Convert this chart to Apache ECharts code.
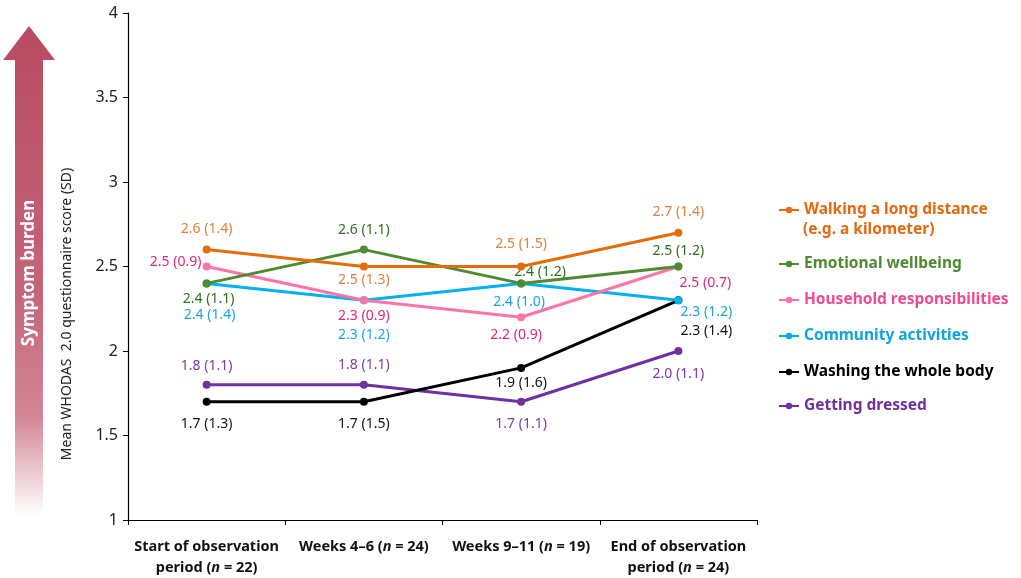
<!DOCTYPE html>
<html><head><meta charset="utf-8">
<script src="https://cdn.jsdelivr.net/npm/echarts@6/dist/echarts.min.js"></script>
<style>html,body{margin:0;padding:0;background:#fff}#c{width:1021px;height:578px}</style>
</head><body><div id="c"></div>
<script>
var categories = ['Start of observation\nperiod (n = 22)', 'Weeks 4–6 (n = 24)', 'Weeks 9–11 (n = 19)', 'End of observation\nperiod (n = 24)'];
var seriesNames = ['Walking a long distance', 'Emotional wellbeing', 'Household responsibilities', 'Community activities', 'Washing the whole body', 'Getting dressed'];
var walkingMean = [2.6, 2.5, 2.5, 2.7];
var walkingSD = [1.4, 1.3, 1.5, 1.4];
var emotionalMean = [2.4, 2.6, 2.4, 2.5];
var emotionalSD = [1.1, 1.1, 1.2, 1.2];
var householdMean = [2.5, 2.3, 2.2, 2.5];
var householdSD = [0.9, 0.9, 0.9, 0.7];
var communityMean = [2.4, 2.3, 2.4, 2.3];
var communitySD = [1.4, 1.2, 1.0, 1.2];
var washingMean = [1.7, 1.7, 1.9, 2.3];
var washingSD = [1.3, 1.5, 1.6, 1.4];
var dressedMean = [1.8, 1.8, 1.7, 2.0];
var dressedSD = [1.1, 1.1, 1.1, 1.1];
var yTicks = [1, 1.5, 2, 2.5, 3, 3.5, 4];

var means = [walkingMean, emotionalMean, householdMean, communityMean, washingMean, dressedMean];
var sds = [walkingSD, emotionalSD, householdSD, communitySD, washingSD, dressedSD];
var lineColors = ['#e46c0a', '#4e8a2e', '#ff74a8', '#00b0f0', '#000000', '#7030a0'];
var labelColors = ['#e0803e', '#2f6e1c', '#e3267b', '#1aa6dc', '#111111', '#7a3aa8'];
var legendColors = ['#e4690f', '#4e8a2e', '#ee4b92', '#10a4dc', '#000000', '#7030a0'];
// label offsets (style only)
var labelOffsets = [
  [[0,-21],[0,14],[0,-22],[0,-21]],
  [[2,16],[0,-20],[19,-11],[0,-15]],
  [[-31,-4],[0,16],[-5,18],[27,17]],
  [[3,32],[0,35],[-2,19],[28,12]],
  [[0,22],[0,22],[0,15],[28,31]],
  [[0,-19],[0,-20],[0,22],[0,23]]
];
var legendTops = [197, 251, 287, 323, 359, 393];

var FONT = '"Noto Sans", "Open Sans", sans-serif';

var series = seriesNames.map(function(name, i){
  return {
    name: name,
    type: 'line',
    z: 10 - i,
    symbol: 'circle',
    symbolSize: 8,
    lineStyle: {width: 3, color: lineColors[i]},
    itemStyle: {color: lineColors[i]},
    data: means[i].map(function(v, j){
      return {
        value: v,
        label: {
          show: true, position: 'inside', offset: labelOffsets[i][j],
          formatter: v.toFixed(1) + ' (' + sds[i][j].toFixed(1) + ')',
          color: labelColors[i], fontSize: 14, fontFamily: FONT
        }
      };
    })
  };
});

var legends = seriesNames.map(function(name, i){
  return {
    orient: 'vertical', left: 773, top: legendTops[i],
    itemWidth: 20, itemHeight: 8, itemGap: 0, selectedMode: false,
    data: [{name: name, textStyle: {color: legendColors[i]}}],
    textStyle: {fontFamily: FONT, fontSize: 15.5, fontWeight: 'bold', color: legendColors[i]}
  };
});

function xLabelFmt(v){
  var lines = v.split('\n');
  return lines.map(function(l){
    var m = l.match(/^(.*)\((n) = (\d+)\)(.*)$/);
    if (m) return '{b|' + m[1] + '(}{i|n}{b| = ' + m[3] + ')' + m[4] + '}';
    return '{b|' + l + '}';
  }).join('\n');
}

var chart = echarts.init(document.getElementById('c'));
chart.setOption({
  animation: false,
  backgroundColor: '#fff',
  grid: {left: 128, right: 264, top: 13, bottom: 58},
  legend: legends,
  xAxis: {
    type: 'category', data: categories, boundaryGap: true,
    axisLine: {lineStyle: {color: '#000', width: 1.2}},
    axisTick: {show: true, length: 5, lineStyle: {color: '#000'}},
    axisLabel: {
      interval: 0, margin: 16, formatter: xLabelFmt,
      rich: {
        b: {fontFamily: FONT, fontSize: 14.5, fontWeight: 'bold', color: '#111', lineHeight: 21},
        i: {fontFamily: FONT, fontSize: 14.5, fontWeight: 'bold', fontStyle: 'italic', color: '#111', lineHeight: 21}
      }
    },
    splitLine: {show: false}
  },
  yAxis: {
    type: 'value', min: yTicks[0], max: yTicks[yTicks.length-1], interval: 0.5,
    axisLine: {show: true, lineStyle: {color: '#000', width: 1.2}},
    axisTick: {show: true, length: 5, lineStyle: {color: '#000'}},
    axisLabel: {fontFamily: FONT, fontSize: 16, color: '#222', margin: 10},
    splitLine: {show: false}
  },
  graphic: [
    {
      type: 'polygon', z: 0,
      shape: {points: [[29,26],[55,60],[43,60],[43,516],[15,516],[15,60],[3,60]]},
      style: {
        fill: new echarts.graphic.LinearGradient(0, 0, 0, 1, [
          {offset: 0, color: '#b84b61'},
          {offset: 0.55, color: '#c4667a'},
          {offset: 0.8, color: '#d48797'},
          {offset: 1, color: '#ffffff'}
        ])
      }
    },
    {
      type: 'text', z: 5,
      x: 29, y: 273, rotation: Math.PI / 2,
      style: {text: 'Symptom burden', fill: '#ffffff', font: 'bold 17px ' + FONT, align: 'center', verticalAlign: 'middle'}
    },
    {
      type: 'text', z: 5,
      x: 67, y: 314, rotation: Math.PI / 2,
      style: {text: 'Mean WHODAS  2.0 questionnaire score (SD)', fill: '#222', font: '14px ' + FONT, align: 'center', verticalAlign: 'middle'}
    },
    {
      type: 'text', z: 5,
      x: 803, y: 230,
      style: {text: '(e.g. a kilometer)', fill: legendColors[0], font: 'bold 15.5px ' + FONT, align: 'left', verticalAlign: 'middle'}
    }
  ],
  series: series
});
</script></body></html>
